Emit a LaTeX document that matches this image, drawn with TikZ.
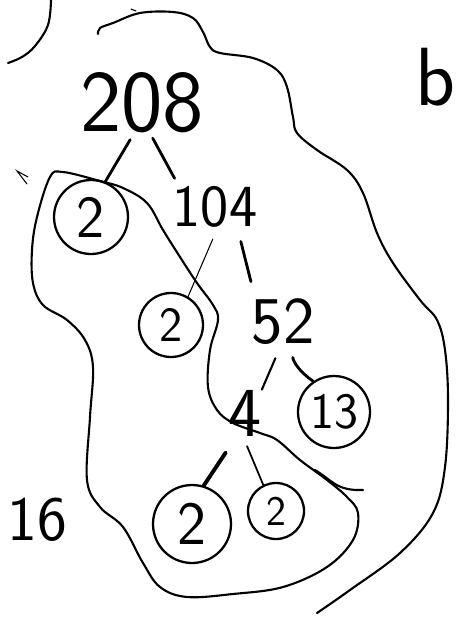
\documentclass[tikz,border=0pt]{standalone}
\usepackage{tikz}
\usetikzlibrary{calc}
\tikzset{
  num/.style         = {inner sep=0pt, font=\sffamily\fontsize{#1}{#1}\selectfont},
  ring/.style 2 args = {draw, circle, line width=1.3pt, inner sep=0pt,
                        minimum size=#1, font=\sffamily\fontsize{#2}{#2}\selectfont},
  branch/.style      = {line width=1.6pt, line cap=round},
  fbranch/.style     = {line width=0.6pt, line cap=round},
  loop/.style        = {line width=1.2pt, line cap=round, line join=round}
}

\begin{document}
\begin{tikzpicture}[x=0.02cm, y=-0.02cm]
    \useasboundingbox (0,0) rectangle (457,619);
    % numbers of the tree
    \node[num=50] (n208) at (142,103) {208};
    \node[num=34] (n104) at (215,207) {104};
    \node[num=38] (n52)  at (283,322) {52};
    \node[num=40] (n4)   at (245,413) {4};
    \node[ring={1.48cm}{34}] (n2a) at (91,217)  {2};
    \node[ring={1.28cm}{28}] (n2b) at (171,325) {2};
    \node[ring={1.44cm}{29}] (n13) at (334,412) {13};
    \node[ring={1.56cm}{35}] (n2c) at (192,524) {2};
    \node[ring={1.12cm}{24}] (n2d) at (276,511) {2};
    \node[num=36] (n16) at (37,520) {16};
    \node[num=47, anchor=south east] (nb) at (456,107) {b};
    % branches
    \draw[branch, shorten <=4pt] (n208.255) -- (n2a.68);
    \draw[branch, shorten <=3pt, shorten >=5pt] (n208.285) -- (n104.150);
    \draw[fbranch, shorten <=7pt] (n104.277) -- (n2b.59);
    \draw[branch, shorten <=8pt, shorten >=10pt] (n104.317) -- (n52.140);
    \draw[branch, line width=1.2pt, shorten <=8pt] (n52.265) -- (n4.north east);
    \draw[branch, shorten <=7pt] (n52.290) to[bend right=25] (n13.124);
    \draw[branch, line width=2.2pt, shorten <=11pt] (n4.250) -- (n2c.73);
    \draw[fbranch, line width=1pt, shorten <=6pt] (n4.265) -- (n2d.116);
    % outer line
    \draw[loop] plot[smooth, tension=0.6] coordinates {(98,34) (100,28) (113,23)
      (140,13) (173,12) (193,18) (203,32) (210,47) (220,53) (253,58) (277,70)
      (287,87) (293,117) (297,133) (317,150) (347,170) (363,193) (377,233)
      (393,263) (420,300) (437,320) (445,350) (448,400) (445,467) (433,513)
      (400,553) (350,590) (317,613)};
    % inner loop
    \draw[loop] plot[smooth cycle, tension=0.6] coordinates {(63,172) (100,181)
      (123,188) (147,203) (163,230) (180,257) (197,283) (213,305) (218,320)
      (210,350) (208,387) (217,410) (233,423) (260,433) (277,440) (300,460)
      (327,480) (347,497) (358,513) (353,540) (327,567) (283,587) (233,594)
      (187,597) (160,587) (143,563) (123,527) (100,507) (87,480) (90,417)
      (93,367) (85,340) (67,320) (43,305) (33,283) (32,250) (37,217) (50,177)};
    % loose strokes
    \draw[loop] plot[smooth, tension=0.6] coordinates {(51,0) (48,25) (35,46) (22,57) (8,63)};
    \draw[loop] (315,470) .. controls (332,480) and (336,491) .. (363,490);
    \draw[fbranch] (28,177) -- (17,171) -- (27,184);
    \draw[fbranch] (131,9) -- (136,11);
\end{tikzpicture}
\end{document}
